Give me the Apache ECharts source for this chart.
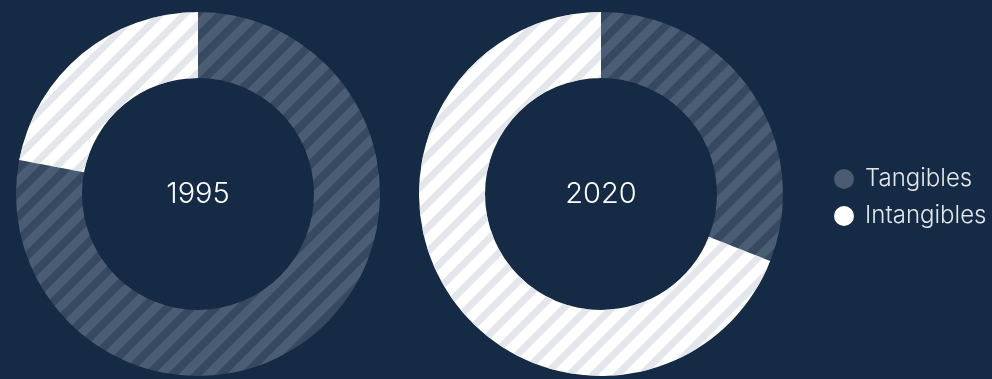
<!DOCTYPE html>
<html>
<head>
<meta charset="utf-8">
<script src="https://cdn.jsdelivr.net/npm/echarts@6/dist/echarts.min.js"></script>
<style>
  html, body { margin: 0; padding: 0; background: #152A44; }
  #chart { width: 992px; height: 379px; }
</style>
</head>
<body>
<div id="chart"></div>
<script>
// Share of company value by asset type
const years = ['1995', '2020'];
const categories = ['Tangibles', 'Intangibles'];
const tangibles = [78, 31];
const intangibles = [22, 69];

const centers = [[198, 194], [601, 194]];
const BG = '#152A44';

const stripe = { symbol: 'rect', dashArrayX: [1, 0], dashArrayY: [9, 8], rotation: -Math.PI / 4 };
const segmentStyles = {
  Tangibles: { color: '#364961', decal: Object.assign({}, stripe, { color: 'rgba(110,128,150,0.36)' }) },
  Intangibles: { color: '#FFFFFF', decal: Object.assign({}, stripe, { color: '#DCE0E6' }) }
};

const chart = echarts.init(document.getElementById('chart'));

const series = years.map((y, i) => ({
  type: 'pie',
  name: y,
  center: centers[i],
  radius: [116, 182],
  startAngle: 90,
  clockwise: true,
  silent: true,
  label: { show: false },
  labelLine: { show: false },
  itemStyle: { borderWidth: 0 },
  data: [
    { name: categories[0], value: tangibles[i], itemStyle: segmentStyles.Tangibles },
    { name: categories[1], value: intangibles[i], itemStyle: segmentStyles.Intangibles }
  ]
}));

chart.setOption({
  backgroundColor: BG,
  animation: false,
  aria: { enabled: true, decal: { show: true } },
  legend: {
    orient: 'vertical',
    left: 829,
    top: 162,
    icon: 'circle',
    itemWidth: 20,
    itemHeight: 20,
    itemGap: 13,
    selectedMode: false,
    textStyle: { color: '#E3E7EC', fontSize: 24, fontFamily: 'Inter', fontWeight: 300, padding: [0, 0, 0, 6] },
    data: [
      { name: categories[0], itemStyle: { color: '#4A5B72', decal: 'none' } },
      { name: categories[1], itemStyle: { color: '#FFFFFF', decal: 'none' } }
    ]
  },
  graphic: years.map((y, i) => ({
    type: 'text',
    x: centers[i][0],
    y: centers[i][1],
    style: {
      text: y,
      fill: '#FFFFFF',
      fontSize: 29,
      fontFamily: 'Inter',
      fontWeight: 300,
      align: 'center',
      verticalAlign: 'middle'
    }
  })),
  series: series
});
</script>
</body>
</html>
